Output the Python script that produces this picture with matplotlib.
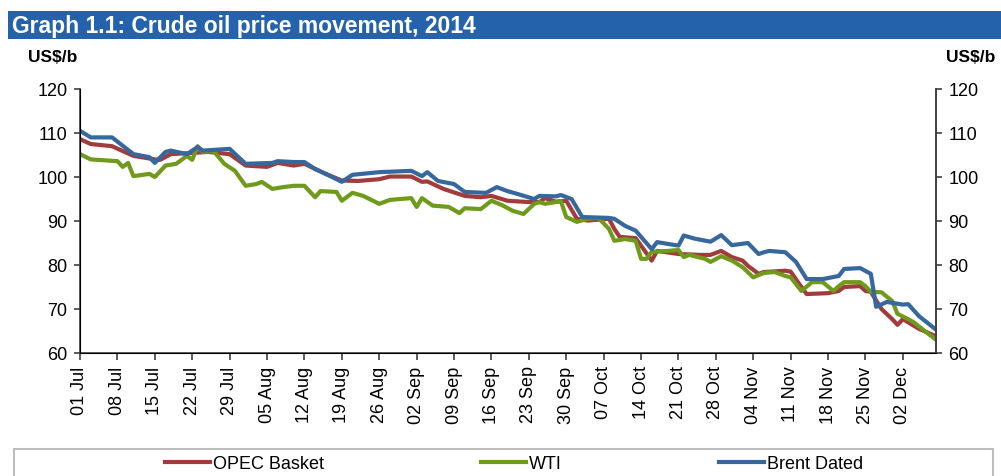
import matplotlib
matplotlib.use('Agg')
import matplotlib.pyplot as plt
from matplotlib.patches import Rectangle

plt.rcParams['font.family'] = ['Liberation Sans', 'DejaVu Sans']

# days counted from 01 Jul 2014
brent_days = [0, 2, 6, 10, 13, 14, 16, 17, 20, 22, 23, 28, 31, 36, 37, 40, 42, 44, 46, 49,
              51, 56, 62, 64, 65, 67, 70, 72, 76, 78, 80, 82, 85, 86, 89, 90, 92, 94, 99, 100,
              102, 104, 107, 108, 112, 113, 115, 118, 120, 122, 125, 127, 128, 129, 132, 134,
              136, 139, 142, 143, 146, 148, 149, 151, 154, 155, 157, 160]
brent_vals = [110.5, 109.0, 109.0, 105.2, 104.5, 103.2, 105.7, 106.0, 105.2, 106.8, 106.0,
              106.4, 103.0, 103.2, 103.6, 103.4, 103.4, 101.8, 100.7, 98.9, 100.5, 101.1,
              101.4, 100.2, 101.1, 99.1, 98.4, 96.6, 96.4, 97.7, 96.8, 96.1, 95.0, 95.7, 95.6,
              95.9, 95.0, 90.9, 90.7, 90.5, 88.9, 87.8, 83.6, 85.2, 84.4, 86.7, 86.0, 85.3,
              86.8, 84.5, 85.0, 82.5, 82.9, 83.2, 82.9, 80.7, 76.8, 76.8, 77.5, 79.1, 79.3,
              78.0, 70.5, 71.6, 71.0, 71.1, 68.4, 65.5]

opec_days = [0, 2, 6, 10, 14, 15, 17, 20, 24, 28, 31, 35, 37, 40, 42, 46, 49, 52, 56, 58,
             62, 64, 65, 68, 72, 75, 77, 80, 84, 86, 87, 89, 91, 93, 95, 99, 100, 101, 104,
             107, 108, 112, 116, 118, 120, 122, 124, 125, 127, 128, 132, 133, 135, 136, 140,
             142, 143, 146, 147, 148, 150, 152, 153, 154, 157, 160]
opec_vals = [108.6, 107.5, 107.0, 104.8, 104.0, 103.9, 105.2, 105.4, 105.7, 105.2, 102.6,
             102.3, 103.2, 102.6, 103.0, 100.7, 99.2, 99.1, 99.5, 100.1, 100.1, 98.9, 99.0,
             97.3, 95.7, 95.4, 95.7, 94.6, 94.3, 94.3, 95.2, 94.4, 94.6, 90.5, 90.1, 90.5,
             88.2, 86.4, 86.1, 81.0, 83.2, 82.5, 82.3, 82.3, 83.2, 81.8, 81.0, 79.8, 78.0,
             78.4, 78.7, 78.5, 75.0, 73.4, 73.6, 74.1, 75.0, 75.2, 74.1, 73.9, 70.0, 67.7,
             66.4, 67.7, 65.5, 63.9]

wti_days = [0, 2, 7, 8, 9, 10, 13, 14, 16, 18, 20, 21, 22, 23, 25, 27, 29, 31, 33, 34, 36,
            38, 40, 42, 44, 45, 48, 49, 51, 53, 56, 58, 62, 63, 64, 66, 69, 71, 72, 75, 77,
            79, 81, 83, 85, 86, 87, 90, 91, 93, 95, 97, 99, 100, 102, 104, 105, 106, 107,
            110, 112, 113, 114, 117, 118, 120, 122, 124, 126, 128, 130, 132, 133, 135, 137,
            139, 141, 142, 143, 146, 147, 148, 150, 152, 153, 155, 156, 160]
wti_vals = [105.2, 104.0, 103.6, 102.3, 103.2, 100.2, 100.7, 100.0, 102.6, 103.0, 104.8,
            103.9, 107.0, 105.7, 105.9, 103.0, 101.4, 98.0, 98.4, 98.9, 97.3, 97.7, 98.0,
            98.0, 95.4, 96.8, 96.6, 94.6, 96.4, 95.7, 93.9, 94.8, 95.2, 93.2, 95.2, 93.5,
            93.2, 91.8, 92.9, 92.7, 94.6, 93.6, 92.3, 91.6, 93.9, 94.3, 93.9, 94.5, 90.9,
            89.8, 90.5, 90.7, 88.2, 85.5, 85.9, 85.5, 81.4, 81.4, 83.0, 83.2, 83.4, 81.8,
            82.3, 81.4, 80.7, 82.0, 81.0, 79.5, 77.2, 78.2, 78.4, 77.5, 77.2, 74.1, 76.1,
            76.1, 74.1, 75.2, 76.1, 76.1, 75.2, 73.9, 73.8, 71.8, 68.9, 67.7, 67.0, 63.2]

tick_labels = ['01 Jul', '08 Jul', '15 Jul', '22 Jul', '29 Jul', '05 Aug', '12 Aug',
               '19 Aug', '26 Aug', '02 Sep', '09 Sep', '16 Sep', '23 Sep', '30 Sep',
               '07 Oct', '14 Oct', '21 Oct', '28 Oct', '04 Nov', '11 Nov', '18 Nov',
               '25 Nov', '02 Dec']

red = '#A23B3C'
green = '#6F9A1C'
blue = '#36689E'
axcol = '#404040'

fig = plt.figure(figsize=(10.01, 4.77), dpi=100)
ax = fig.add_axes([80 / 1001, 1 - 354 / 477, 856 / 1001, 264 / 477])

ax.plot(opec_days, opec_vals, color=red, lw=3, label='OPEC Basket', solid_joinstyle='round')
ax.plot(wti_days, wti_vals, color=green, lw=3, label='WTI', solid_joinstyle='round')
ax.plot(brent_days, brent_vals, color=blue, lw=3, label='Brent Dated', solid_joinstyle='round')

ax.set_xlim(0, 160.2)
ax.set_ylim(60, 120)
ax.set_yticks(range(60, 121, 10))
ax.set_xticks([7 * i for i in range(len(tick_labels))])
ax.set_xticklabels(tick_labels, rotation=90, fontsize=13)
ax.tick_params(axis='y', labelsize=13, length=4, width=1.2, pad=5, color=axcol)
ax.tick_params(axis='x', length=5, width=1.2, pad=4, color=axcol)
ax.spines['top'].set_visible(False)
for s in ['left', 'right', 'bottom']:
    ax.spines[s].set_color(axcol)
    ax.spines[s].set_linewidth(1.2)

ax2 = ax.twinx()
ax2.set_ylim(60, 120)
ax2.set_yticks(range(60, 121, 10))
ax2.tick_params(axis='y', labelsize=13, length=4, width=1.2, pad=5, color=axcol)
ax2.spines['top'].set_visible(False)
ax2.spines['right'].set_color(axcol)
ax2.spines['right'].set_linewidth(1.2)

# title bar
fig.patches.append(Rectangle((8 / 1001, 1 - 40 / 477), 993 / 1001, 28 / 477,
                             transform=fig.transFigure, facecolor='#2462AC', edgecolor='none'))
fig.text(12 / 1001, 1 - 26 / 477, 'Graph 1.1: Crude oil price movement, 2014',
         color='white', fontsize=16.5, fontweight='bold', va='center', ha='left')

fig.text(28 / 1001, 1 - 57 / 477, 'US$/b', fontsize=12.5, fontweight='bold', va='center')
fig.text(995 / 1001, 1 - 57 / 477, 'US$/b', fontsize=12.5, fontweight='bold', va='center',
         ha='right')

# legend box, cut by the bottom edge
fig.patches.append(Rectangle((14 / 1001, 1 - 485 / 477), 979 / 1001, 35 / 477,
                             transform=fig.transFigure, facecolor='none',
                             edgecolor='#BDBDBD', lw=1.5))
fig.legend(loc='center', bbox_to_anchor=(514 / 1001, 1 - 465 / 477), ncol=3,
           frameon=False, fontsize=13, handlelength=2.5, handletextpad=0.15,
           columnspacing=8.7)

fig.savefig('out.png', dpi=100)
